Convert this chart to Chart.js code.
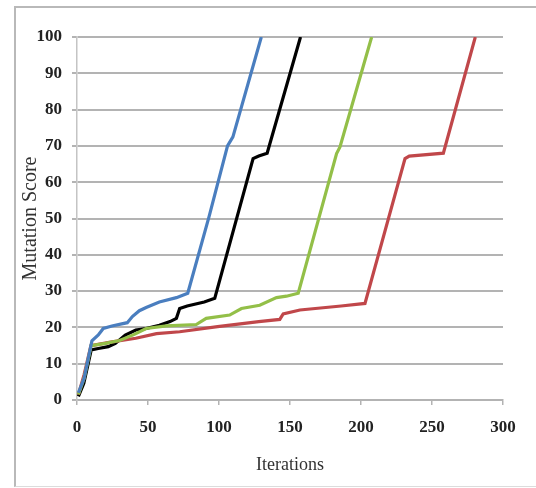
<!DOCTYPE html>
<html>
<head>
<meta charset="utf-8">
<script src="https://cdn.jsdelivr.net/npm/chart.js@4.4.0/dist/chart.umd.min.js"></script>
<style>
  html, body { margin: 0; padding: 0; background: #fff; }
  #frame {
    position: absolute; left: 14px; top: 6px; width: 540px; height: 478px;
    border-left: 2px solid #b9b9b9; border-top: 2px solid #b9b9b9; border-bottom: 1px solid #dcdcdc;
  }
  #wrap { position: absolute; left: 0; top: 0; width: 536px; height: 488px; }
</style>
</head>
<body>
<div id="frame"></div>
<div id="wrap"><canvas id="chart" width="536" height="488"></canvas></div>
<script>
// valores (x = iteraciones, y = mutation score)
const blueX  = [1, 5, 10.5, 15, 18.5, 24.6, 35.4, 39, 43.9, 48.7, 58, 70, 78, 93, 106, 109.8, 129.8];
const blueY  = [2, 6, 16.3, 17.9, 19.7, 20.4, 21.3, 23, 24.6, 25.5, 27, 28.2, 29.4, 50.5, 70, 72.5, 100];

const greenX = [1, 5, 10, 20, 30, 40, 48.7, 63, 84, 91, 107.5, 115.8, 128.7, 140.5, 147.5, 155.8, 182.8, 185.2, 207.5];
const greenY = [1.5, 6, 15, 15.6, 16.4, 18, 19.7, 20.4, 20.8, 22.5, 23.4, 25.2, 26.1, 28.2, 28.6, 29.4, 67.9, 69.7, 100];

const redX   = [1, 5, 9.8, 24.6, 41.4, 56, 72.3, 99, 128, 142.8, 145.2, 157, 186, 202.8, 231, 234, 258, 280.5];
const redY   = [1.5, 7, 15, 16, 17, 18.3, 18.8, 20.2, 21.6, 22.2, 23.7, 24.8, 25.9, 26.6, 66.5, 67.2, 68, 100];

const blackX = [1, 4.8, 10, 15, 22, 27, 34, 41.4, 48.7, 58, 65.5, 70, 72.3, 77.6, 89.6, 97, 124, 128, 133.9, 157.4];
const blackY = [1, 4.6, 13.8, 14.2, 14.7, 15.6, 17.9, 19.3, 19.7, 20.6, 21.6, 22.5, 25.2, 25.9, 27, 28, 66.5, 67.2, 68, 100];

const xTitulo = 'Iterations';
const yTitulo = 'Mutation Score';

function puntos(xs, ys) {
    return xs.map((x, i) => ({ x: x, y: ys[i] }));
}

function serie(xs, ys, color) {
    return {
        data: puntos(xs, ys),
        borderColor: color,
        borderWidth: 3.2,
        pointRadius: 0,
        showLine: true,
        fill: false,
        tension: 0
    };
}

const gris = '#b3b3b3';

new Chart(document.getElementById('chart').getContext('2d'), {
    type: 'scatter',
    data: {
        datasets: [
            serie(blueX, blueY, '#4a7ebf'),
            serie(greenX, greenY, '#93bf48'),
            serie(redX, redY, '#c0474a'),
            serie(blackX, blackY, '#000000')
        ]
    },
    options: {
        responsive: false,
        animation: false,
        layout: { padding: { left: 0, top: 37, right: 33, bottom: 0 } },
        plugins: { legend: { display: false }, tooltip: { enabled: false } },
        scales: {
            x: {
                type: 'linear',
                min: 0, max: 300,
                afterFit: (s) => { s.height = 88; },
                ticks: { stepSize: 50, padding: 12, color: '#222',
                         font: { family: 'Liberation Serif', size: 17, weight: 'bold' } },
                grid: { drawOnChartArea: false, drawTicks: true, tickLength: 5, color: gris, lineWidth: 1.5 },
                border: { color: gris, width: 1.5 },
                title: { display: true, text: xTitulo, color: '#333', padding: { top: 0, bottom: 12 },
                         font: { family: 'Liberation Serif', size: 18 } }
            },
            y: {
                min: 0, max: 100,
                afterFit: (s) => { s.width = 77; },
                ticks: { stepSize: 10, padding: 10, color: '#222',
                         font: { family: 'Liberation Serif', size: 17, weight: 'bold' } },
                grid: { tickLength: 5, color: gris, lineWidth: 2 },
                border: { color: '#c4c4c4', width: 1.5 },
                title: { display: true, text: yTitulo, color: '#333', padding: { top: 19, bottom: 0 },
                         font: { family: 'Liberation Serif', size: 20 } }
            }
        }
    }
});
</script>
</body>
</html>
